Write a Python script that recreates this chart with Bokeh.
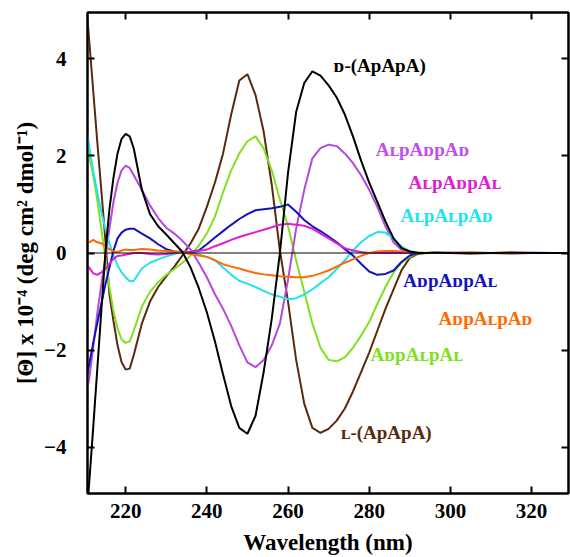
from bokeh.plotting import figure
from bokeh.models import Range1d, LinearAxis, FixedTicker, Span, CustomLabelingPolicy
from bokeh.core.properties import value
from bokeh.embed import file_html
from bokeh.resources import INLINE

# wavelength grid (nm)
wavelength = [210.5, 211, 212, 213, 214, 215, 216, 217, 218, 219, 220, 221, 222,
              224, 226, 228, 230, 232, 234, 236, 238, 240, 242, 244, 246, 248, 250,
              252, 254, 256, 258, 260, 262, 264, 266, 268, 270, 272, 274, 276, 278,
              280, 282, 284, 286, 288, 290, 292,
              294, 296, 300, 305, 310, 315, 320, 325, 330]

# [theta] x 10^-4 for each sample
d_apapa = [-5.3, -4.75, -3.6, -2.4, -1.2, 0.0, 0.9, 1.55, 2.05, 2.35, 2.45, 2.4, 2.15,
           1.3, 0.8, 0.55, 0.38, 0.2, 0.02, -0.3, -0.72, -1.22, -1.82, -2.5, -3.15,
           -3.6, -3.72, -3.35, -2.45, -1.35, 0.0, 1.65, 2.9, 3.5, 3.74, 3.65, 3.45,
           3.2, 2.85, 2.4, 1.9, 1.45, 1.05, 0.65, 0.3, 0.1, 0.03, 0.0,
           0.0, 0.01, 0.0, -0.01, 0.0, 0.01, 0.0, 0.0, 0.0]
l_apapa = [4.95, 4.4, 3.35, 2.3, 1.3, 0.27, -0.85, -1.4, -1.9, -2.25, -2.4, -2.38, -2.1,
           -1.45, -1.0, -0.7, -0.48, -0.28, -0.05, 0.2, 0.5, 0.95, 1.45, 2.05, 2.85,
           3.55, 3.68, 3.25, 2.5, 1.4, 0.05, -1.0, -2.2, -3.1, -3.6, -3.7, -3.62,
           -3.45, -3.2, -2.85, -2.45, -2.05, -1.6, -1.15, -0.75, -0.35, -0.1, -0.02,
           0.0, 0.0, 0.0, 0.01, 0.0, -0.01, 0.0, 0.0, 0.0]
al_ad_ad = [-2.8, -2.6, -1.95, -1.25, -0.65, -0.1, 0.5, 1.05, 1.45, 1.7, 1.8, 1.75, 1.6,
            1.3, 0.98, 0.72, 0.52, 0.4, 0.25, 0.07, -0.2, -0.5, -0.85, -1.15, -1.5,
            -1.9, -2.25, -2.35, -2.2, -1.9, -1.45, -0.55, 0.5, 1.3, 1.95, 2.16, 2.23,
            2.2, 2.05, 1.85, 1.6, 1.3, 0.95, 0.55, 0.22, 0.06, 0.0, 0.0,
            0.0, 0.0, 0.01, 0.0, 0.0, 0.0, 0.01, 0.0, 0.0]
al_ad_al = [-0.25, -0.3, -0.42, -0.45, -0.4, -0.33, -0.22, -0.12, -0.06, -0.05, -0.03, -0.02, 0.0,
            0.0, -0.02, -0.03, -0.02, 0.0, 0.02, 0.02, 0.04, 0.07, 0.14, 0.2, 0.27,
            0.33, 0.38, 0.43, 0.48, 0.53, 0.58, 0.6, 0.58, 0.56, 0.5, 0.4, 0.3,
            0.2, 0.1, 0.05, 0.02, 0.0, 0.0, 0.0, 0.0, 0.0, 0.0, 0.0,
            0.0, 0.0, 0.0, 0.0, 0.0, 0.0, 0.0, 0.0, 0.0]
al_al_ad = [2.5, 2.2, 1.7, 1.25, 0.85, 0.5, 0.2, -0.05, -0.25, -0.4, -0.5, -0.58, -0.57,
            -0.32, -0.2, -0.13, -0.07, -0.02, 0.03, 0.02, -0.03, -0.08, -0.15, -0.3, -0.45,
            -0.57, -0.63, -0.7, -0.78, -0.85, -0.9, -0.95, -0.93, -0.85, -0.75, -0.62, -0.5,
            -0.33, -0.15, 0.05, 0.22, 0.35, 0.43, 0.42, 0.3, 0.13, 0.04, 0.01,
            0.0, 0.0, 0.0, 0.0, 0.0, 0.0, 0.0, 0.0, 0.0]
ad_ad_al = [-2.5, -2.3, -1.85, -1.45, -1.05, -0.65, -0.3, 0.05, 0.3, 0.42, 0.48, 0.5, 0.5,
            0.4, 0.3, 0.18, 0.08, 0.03, 0.02, 0.02, 0.05, 0.18, 0.32, 0.45, 0.58,
            0.7, 0.8, 0.88, 0.9, 0.92, 0.95, 1.0, 0.85, 0.68, 0.55, 0.45, 0.34,
            0.22, 0.08, -0.05, -0.22, -0.38, -0.45, -0.43, -0.36, -0.18, -0.05, 0.0,
            0.0, 0.0, 0.0, 0.0, 0.0, 0.0, 0.0, 0.0, 0.0]
ad_al_ad = [0.25, 0.22, 0.27, 0.22, 0.2, 0.14, 0.08, 0.03, 0.02, 0.05, 0.07, 0.06, 0.06,
            0.08, 0.07, 0.05, 0.04, 0.03, 0.01, -0.02, -0.05, -0.08, -0.15, -0.23, -0.28,
            -0.32, -0.37, -0.41, -0.44, -0.46, -0.48, -0.49, -0.5, -0.5, -0.47, -0.42, -0.36,
            -0.28, -0.2, -0.13, -0.06, 0.0, 0.03, 0.04, 0.04, 0.03, 0.02, 0.01,
            0.0, 0.0, 0.0, 0.0, 0.0, 0.0, 0.0, 0.0, 0.0]
ad_al_al = [2.3, 2.0, 1.6, 1.1, 0.5, -0.1, -0.7, -1.2, -1.55, -1.78, -1.85, -1.82, -1.6,
            -1.1, -0.8, -0.6, -0.45, -0.33, -0.2, -0.05, 0.15, 0.4, 0.75, 1.25, 1.7,
            2.05, 2.3, 2.4, 2.15, 1.7, 1.1, 0.55, -0.15, -0.8, -1.45, -1.95, -2.2,
            -2.23, -2.15, -1.95, -1.7, -1.42, -1.05, -0.7, -0.4, -0.2, -0.08, 0.0,
            0.0, 0.0, 0.0, 0.0, 0.0, 0.0, 0.0, 0.0, 0.0]

series = [l_apapa, ad_al_al, al_ad_ad, al_al_ad, ad_ad_al, al_ad_al, ad_al_ad, d_apapa]
colors = ["#5A2A0C", "#80E020", "#B448E0", "#22E2F0", "#1212C0", "#E020D0", "#FF6A00", "#000000"]
for s in series:
    assert len(s) == len(wavelength), len(s)

# curve labels
label_texts = ["ᴅ-(ApApA)", "AʟpAᴅpAᴅ", "AʟpAᴅpAʟ", "AʟpAʟpAᴅ",
               "AᴅpAᴅpAʟ", "AᴅpAʟpAᴅ", "AᴅpAʟpAʟ", "ʟ-(ApApA)"]
label_x = [271.2, 281.6, 289.7, 287.7, 288.4, 297.1, 280.3, 273.0]
label_y = [3.86, 2.14, 1.46, 0.78, -0.57, -1.34, -2.08, -3.69]
label_colors = ["#000000", "#C050E8", "#E020D0", "#22E2F0", "#1212C0", "#FF6A00", "#80E020", "#5A2A0C"]

x_ticks = [220, 240, 260, 280, 300, 320]
y_ticks = [-4, -2, 0, 2, 4]

FONT = "Liberation Serif"

p = figure(width=570, height=557, x_range=Range1d(210.6, 329.1), y_range=Range1d(-4.95, 4.95),
           output_backend="svg", toolbar_location=None,
           min_border_left=87, min_border_right=2, min_border_top=12, min_border_bottom=64)
p.grid.visible = False
p.outline_line_color = "black"
p.outline_line_width = 2
p.background_fill_color = "white"
p.border_fill_color = "white"

p.add_layout(Span(location=0, dimension="width", line_color="black", line_width=1))

for s, c in zip(series, colors):
    p.line(wavelength, s, line_color=c, line_width=2)

p.text(x=label_x, y=label_y, text=label_texts, text_color=label_colors,
       text_font=value(FONT), text_font_style="bold", text_font_size="19px",
       text_baseline="middle", text_align="left")

for ax in p.xaxis:
    ax.ticker = FixedTicker(ticks=x_ticks)
for ax in p.yaxis:
    ax.ticker = FixedTicker(ticks=y_ticks)

for ax in list(p.xaxis) + list(p.yaxis):
    ax.major_tick_in = 7
    ax.major_tick_out = 0
    ax.minor_tick_line_color = None
    ax.major_tick_line_color = "black"
    ax.major_tick_line_width = 2
    ax.axis_line_color = "black"
    ax.axis_line_width = 2
    ax.major_label_text_font = FONT
    ax.major_label_text_font_style = "bold"
    ax.major_label_text_font_size = "21px"
    ax.major_label_text_color = "black"
    ax.axis_label_text_font = FONT
    ax.axis_label_text_font_style = "bold"
    ax.axis_label_text_font_size = "23px"
    ax.axis_label_text_color = "black"

p.xaxis.axis_label = "Wavelength (nm)"
p.xaxis.major_label_standoff = 10
p.xaxis.axis_label_standoff = 9
p.yaxis.axis_label = "[Θ] x 10⁻⁴ (deg cm² dmol⁻¹)"
p.yaxis.major_label_standoff = 21
p.yaxis.axis_label_standoff = 3

hide_all = CustomLabelingPolicy(code="""
for (const i of indices)
  indices.unset(i)
return indices
""")

top = LinearAxis(ticker=FixedTicker(ticks=x_ticks), major_tick_in=7, major_tick_out=0,
                 minor_tick_line_color=None, major_tick_line_width=2, axis_line_width=2,
                 major_label_text_font_size="0px", major_label_standoff=0,
                 major_label_policy=hide_all)
right = LinearAxis(ticker=FixedTicker(ticks=y_ticks), major_tick_in=7, major_tick_out=0,
                   minor_tick_line_color=None, major_tick_line_width=2, axis_line_width=2,
                   major_label_text_font_size="0px", major_label_standoff=0,
                   major_label_policy=hide_all)
p.add_layout(top, "above")
p.add_layout(right, "right")

open("out.html", "w").write(file_html(p, INLINE))
